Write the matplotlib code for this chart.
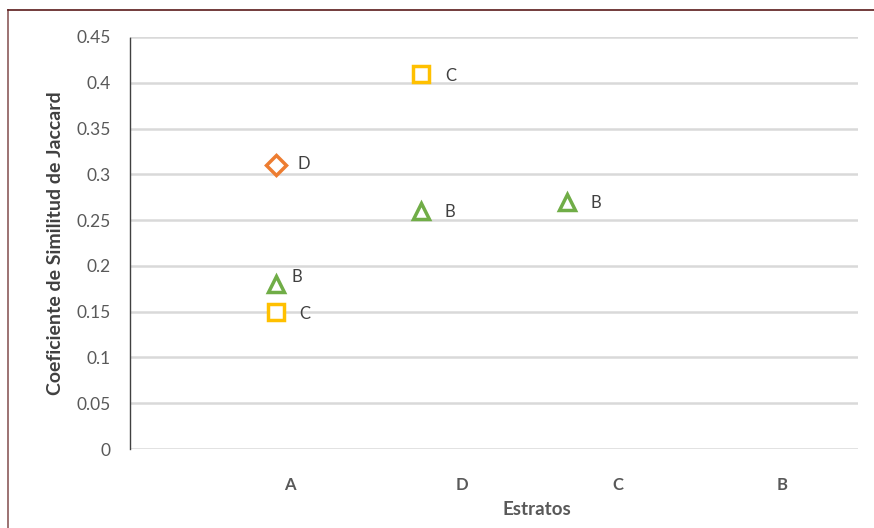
import matplotlib.pyplot as plt
from matplotlib.lines import Line2D

plt.rcParams['font.family'] = ['Lato', 'DejaVu Sans']

# Strata shown along the x axis, in drawing order
categories = ['A', 'D', 'C', 'B']
cat_pos = [1.1, 2.28, 3.35, 4.48]

# Jaccard similarity of each stratum with the others
d_x = [1]
d_y = [0.31]
b_x = [1, 2, 3]
b_y = [0.18, 0.26, 0.27]
c_x = [1, 2]
c_y = [0.15, 0.41]

yticks = [0, 0.05, 0.1, 0.15, 0.2, 0.25, 0.3, 0.35, 0.4, 0.45]
ytick_labels = ['0', '0.05', '0.1', '0.15', '0.2', '0.25', '0.3', '0.35', '0.4', '0.45']

fig = plt.figure(figsize=(8.74, 5.28), dpi=100)
ax = fig.add_axes([0.1487, 0.1496, 0.833, 0.7804])

series = [
    (d_x, d_y, 'D', 'D', '#ED7D31', 10, (20, 1)),
    (b_x, b_y, '^', 'B', '#70AD47', 11, (21, -1)),
    (c_x, c_y, 's', 'C', '#FFC000', 11, (21, -2)),
]
for xs, ys, marker, name, color, ms, off in series:
    ax.plot(xs, ys, linestyle='none', marker=marker, markersize=ms,
            markerfacecolor='white', markeredgecolor=color,
            markeredgewidth=2.5, zorder=3)
    for x, y in zip(xs, ys):
        dx, dy = off
        if name == 'B' and x == 1:
            dx, dy = 15, 5
        ax.annotate(name, (x, y), xytext=(dx, dy), textcoords='offset points',
                    ha='center', va='center', fontsize=12, color='#404040')

ax.set_xlim(0, 5)
ax.set_ylim(0, 0.45)
ax.set_yticks(yticks)
ax.set_yticklabels(ytick_labels, fontsize=12.5, color='#595959')
ax.set_xticks(cat_pos)
ax.set_xticklabels(categories, fontsize=12, fontweight='bold', color='#595959')
ax.tick_params(axis='both', length=0)
ax.tick_params(axis='y', pad=14)
ax.tick_params(axis='x', pad=20)

ax.grid(axis='y', color='#D9D9D9', linewidth=1.8)
ax.set_axisbelow(True)
for side in ['top', 'right', 'bottom']:
    ax.spines[side].set_visible(False)
ax.spines['left'].set_color('#404040')
ax.spines['left'].set_linewidth(1.0)
ax.spines['left'].set_linestyle((0, (2, 1)))

ax.set_ylabel('Coeficiente de Similitud de Jaccard', fontsize=14,
              fontweight='bold', color='#404040', labelpad=9)
ax.set_xlabel('Estratos', fontsize=13.5, fontweight='bold', color='#595959')
ax.xaxis.label.set_verticalalignment('top')
ax.xaxis.set_label_coords(537 / 874, 1 - 501 / 528, transform=fig.transFigure)

# chart frame along the top and left edges
fig.add_artist(Line2D([8 / 874, 8 / 874], [0, 1 - 10 / 528],
                      transform=fig.transFigure, color='#8B5A5A', linewidth=1.2))
fig.add_artist(Line2D([8 / 874, 1], [1 - 10 / 528, 1 - 10 / 528],
                      transform=fig.transFigure, color='#5A1A1A', linewidth=1.2))

fig.savefig('out.png', dpi=100)
